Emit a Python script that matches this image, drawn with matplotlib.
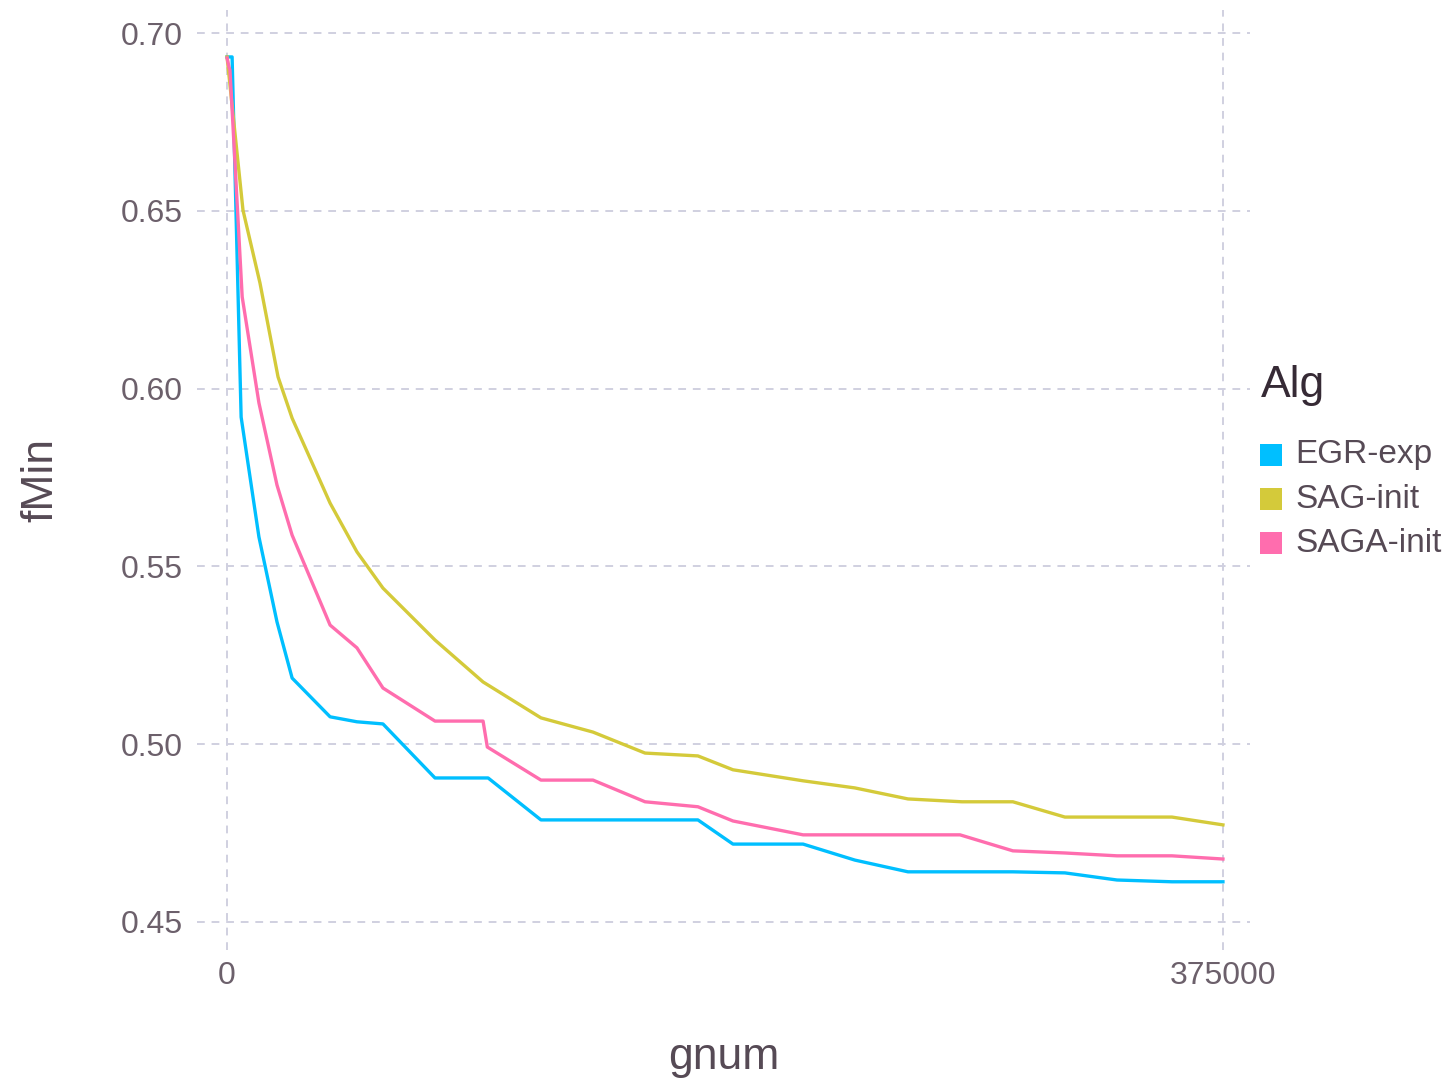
import matplotlib
matplotlib.use("Agg")
import matplotlib.pyplot as plt
from matplotlib.patches import Rectangle

plt.rcParams['font.family'] = ['Liberation Sans', 'DejaVu Sans']

# series (x = gnum, y = fMin)
egr_x = [0, 1900, 5300, 12000, 18800, 24500, 38800, 48900, 58700, 78300, 98300,
         118200, 177300, 190500, 216900, 236400, 256400, 276700, 295900, 315500,
         335100, 355800, 375000]
egr_y = [0.6933, 0.6933, 0.5920, 0.5583, 0.5344, 0.5186, 0.5077, 0.5063, 0.5057,
         0.4905, 0.4905, 0.4787, 0.4787, 0.4719, 0.4719, 0.4674, 0.4641, 0.4641,
         0.4641, 0.4638, 0.4618, 0.4613, 0.4613]

sag_x = [0, 6000, 12400, 19200, 24500, 38800, 48900, 58700, 78300, 96400, 118200,
         137800, 157400, 177300, 190500, 216900, 236400, 256400, 276700, 295900,
         315500, 335100, 355800, 375000]
sag_y = [0.6933, 0.6502, 0.6297, 0.6033, 0.5917, 0.5678, 0.5541, 0.5439, 0.5293,
         0.5175, 0.5074, 0.5034, 0.4975, 0.4967, 0.4928, 0.4897, 0.4877, 0.4846,
         0.4838, 0.4838, 0.4795, 0.4795, 0.4795, 0.4773]

saga_x = [0, 750, 1100, 5700, 12000, 18800, 24500, 38800, 48900, 58700, 78300,
          96400, 98000, 118200, 137800, 157400, 177300, 190500, 216900, 276000,
          295900, 315500, 335100, 355800, 375000]
saga_y = [0.6930, 0.6904, 0.6896, 0.6258, 0.5960, 0.5729, 0.5588, 0.5335, 0.5271,
          0.5158, 0.5065, 0.5065, 0.4992, 0.4899, 0.4899, 0.4838, 0.4824, 0.4784,
          0.4745, 0.4745, 0.4700, 0.4694, 0.4686, 0.4686, 0.4677]

names = ['EGR-exp', 'SAG-init', 'SAGA-init']
colors = ['#00BFFF', '#D4CA3A', '#FF6DAE']
xs = [egr_x, sag_x, saga_x]
ys = [egr_y, sag_y, saga_y]

xticks = [0, 375000]
yticks = [0.45, 0.50, 0.55, 0.60, 0.65, 0.70]

fig = plt.figure(figsize=(14.51, 10.88), dpi=100)
ax = fig.add_axes([0.1358, 0.1268, 0.7257, 0.864])

# grid first
for t in yticks:
    ax.axhline(t, color='#D0D0E0', lw=1.4, ls=(0, (4, 3.5)), zorder=0)
for t in xticks:
    ax.axvline(t, color='#D0D0E0', lw=1.4, ls=(0, (4, 3.5)), zorder=0)

for x, y, c in zip(xs, ys, colors):
    ax.plot(x, y, color=c, lw=2.4, solid_joinstyle='round', zorder=2)

ax.set_xlim(-11300, 385200)
ax.set_ylim(0.4421, 0.7065)
ax.set_xticks(xticks)
ax.set_xticklabels(['0', '375000'])
ax.set_yticks(yticks)
ax.set_yticklabels(['%.2f' % t for t in yticks])
ax.tick_params(length=0, labelsize=23, labelcolor='#6C606B')
ax.tick_params(axis='x', pad=8)
ax.tick_params(axis='y', pad=10)
for s in ax.spines.values():
    s.set_visible(False)

ax.set_xlabel('gnum', fontsize=32, color='#564A55', labelpad=33)
ax.set_ylabel('fMin', fontsize=32, color='#564A55', labelpad=43)

# legend (Gadfly style key)
fig.text(1261 / 1451, 1 - 385 / 1088, 'Alg', fontsize=32, color='#362A35',
         va='center', ha='left')
for i, (n, c) in enumerate(zip(names, colors)):
    yc = 1 - (455 + 44 * i) / 1088
    fig.add_artist(Rectangle((1260 / 1451, yc - 11 / 1088), 22 / 1451, 22 / 1088,
                             transform=fig.transFigure, color=c, lw=0))
    fig.text(1295 / 1451, yc, n, fontsize=24, color='#564A55',
             va='center', ha='left')

fig.savefig('out.png', dpi=100)
